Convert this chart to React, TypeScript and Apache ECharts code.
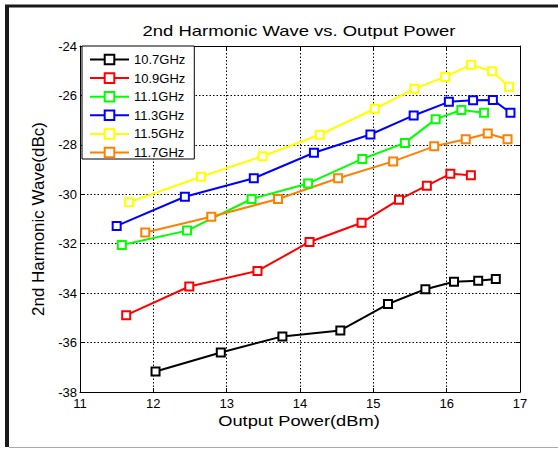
import React, { useEffect, useRef } from "react";
import * as echarts from "echarts";

const seriesNames = ["10.7GHz", "10.9GHz", "11.1GHz", "11.3GHz", "11.5GHz", "11.7GHz"];
const seriesColors = ["#000000", "#ff0000", "#00ff00", "#0000ff", "#ffff00", "#ff8000"];

const x107 = [12.03, 12.92, 13.76, 14.55, 15.2, 15.71, 16.1, 16.43, 16.67];
const y107 = [-37.17, -36.4, -35.75, -35.51, -34.44, -33.84, -33.54, -33.5, -33.43];

const x109 = [11.63, 12.49, 13.42, 14.13, 14.84, 15.35, 15.73, 16.05, 16.33];
const y109 = [-34.89, -33.73, -33.1, -31.93, -31.15, -30.22, -29.65, -29.17, -29.23];

const x111 = [11.57, 12.46, 13.34, 14.11, 14.85, 15.43, 15.85, 16.2, 16.51];
const y111 = [-32.05, -31.47, -30.19, -29.56, -28.57, -27.92, -26.96, -26.59, -26.7];

const x113 = [11.5, 12.43, 13.37, 14.19, 14.96, 15.55, 16.03, 16.36, 16.63, 16.87];
const y113 = [-31.28, -30.1, -29.35, -28.32, -27.58, -26.81, -26.26, -26.2, -26.18, -26.7];

const x115 = [11.67, 12.65, 13.49, 14.27, 15.02, 15.56, 15.98, 16.33, 16.62, 16.85];
const y115 = [-30.32, -29.29, -28.46, -27.59, -26.54, -25.73, -25.25, -24.76, -25.02, -25.65];

const x117 = [11.89, 12.79, 13.7, 14.52, 15.27, 15.83, 16.26, 16.56, 16.83];
const y117 = [-31.55, -30.91, -30.19, -29.35, -28.67, -28.06, -27.77, -27.54, -27.77];

const xs = [x107, x109, x111, x113, x115, x117];
const ys = [y107, y109, y111, y113, y115, y117];

const titleText = "2nd Harmonic Wave vs. Output Power";
const xAxisName = "Output Power(dBm)";
const yAxisName = "2nd Harmonic Wave(dBc)";

const FONT = "'Liberation Sans', Arial, sans-serif";

export default function App() {
  const ref = useRef<HTMLDivElement>(null);
  useEffect(() => {
    if (!ref.current) return;
    const chart = echarts.init(ref.current, null, { renderer: "svg" });
    const dotted = { show: true, lineStyle: { color: "#000", width: 1, type: [1.5, 2] as any } };
    const series = seriesNames.map((name, i) => ({
      name,
      type: "line",
      data: xs[i].map((x, j) => [x, ys[i][j]]),
      symbol: "emptyRect",
      symbolSize: 8,
      lineStyle: { color: seriesColors[i], width: 2 },
      itemStyle: { color: seriesColors[i], borderColor: seriesColors[i], borderWidth: 2 },
      z: 2,
    }));
    chart.setOption({
      animation: false,
      backgroundColor: "#fff",
      textStyle: { fontFamily: FONT },
      grid: { left: 80, top: 46, right: 38, bottom: 57, containLabel: false },
      legend: {
        orient: "vertical",
        left: 82,
        top: 46,
        padding: [7, 9, 0, 7],
        itemWidth: 39,
        itemHeight: 12,
        itemGap: 5.6,
        icon: "inherit",
        backgroundColor: "#fff",
        borderColor: "#000",
        borderWidth: 1,
        borderRadius: 0,
        textStyle: { fontFamily: FONT, fontSize: 13, color: "#000" },
        data: seriesNames.map((n) => ({ name: n, icon: "inherit" })),
        z: 5,
      },
      xAxis: [
        {
          type: "value",
          min: 11,
          max: 17,
          interval: 1,
          position: "bottom",
          axisLine: { show: true, lineStyle: { color: "#000", width: 1 } },
          axisTick: { show: true, inside: true, length: 4, lineStyle: { color: "#000" } },
          axisLabel: { margin: 5, fontFamily: FONT, fontSize: 13, color: "#000" },
          splitLine: dotted,
        },
        {
          type: "value",
          min: 11,
          max: 17,
          interval: 1,
          position: "top",
          axisLine: { show: true, onZero: false, lineStyle: { color: "#000", width: 1 } },
          axisTick: { show: true, inside: true, length: 4, lineStyle: { color: "#000" } },
          axisLabel: { show: false },
          splitLine: { show: false },
        },
      ],
      yAxis: [
        {
          type: "value",
          min: -38,
          max: -24,
          interval: 2,
          position: "left",
          name: yAxisName,
          nameLocation: "middle",
          nameGap: 31,
          nameTextStyle: { fontFamily: FONT, fontSize: 17, color: "#000" },
          axisLine: { show: true, onZero: false, lineStyle: { color: "#000", width: 1 } },
          axisTick: { show: true, inside: true, length: 4, lineStyle: { color: "#000" } },
          axisLabel: { margin: 3, fontFamily: FONT, fontSize: 13, color: "#000" },
          splitLine: dotted,
        },
        {
          type: "value",
          min: -38,
          max: -24,
          interval: 2,
          position: "right",
          axisLine: { show: true, onZero: false, lineStyle: { color: "#000", width: 1 } },
          axisTick: { show: true, inside: true, length: 4, lineStyle: { color: "#000" } },
          axisLabel: { show: false },
          splitLine: { show: false },
        },
      ],
      graphic: [
        {
          type: "text",
          x: 299,
          y: 31,
          scaleX: 1.23,
          style: {
            text: titleText,
            font: `15px ${FONT}`,
            fill: "#000",
            textAlign: "center",
            textVerticalAlign: "middle",
          },
          z: 10,
        },
        {
          type: "text",
          x: 299,
          y: 421,
          scaleX: 1.22,
          style: {
            text: xAxisName,
            font: `15px ${FONT}`,
            fill: "#000",
            textAlign: "center",
            textVerticalAlign: "middle",
          },
          z: 10,
        },
        { type: "line", shape: { x1: 5, y1: 6, x2: 558, y2: 6 }, style: { stroke: "#1a1a1a", lineWidth: 3 }, z: 10 },
        { type: "line", shape: { x1: 7, y1: 5, x2: 7, y2: 447 }, style: { stroke: "#1a1a1a", lineWidth: 4 }, z: 10 },
        { type: "line", shape: { x1: 9, y1: 447.5, x2: 558, y2: 447.5 }, style: { stroke: "#aaaaaa", lineWidth: 1 }, z: 10 },
      ],
      series,
    });
    return () => chart.dispose();
  }, []);
  return (
    <div
      ref={ref}
      style={{ position: "absolute", left: 0, top: 0, width: 558, height: 449 }}
    />
  );
}
